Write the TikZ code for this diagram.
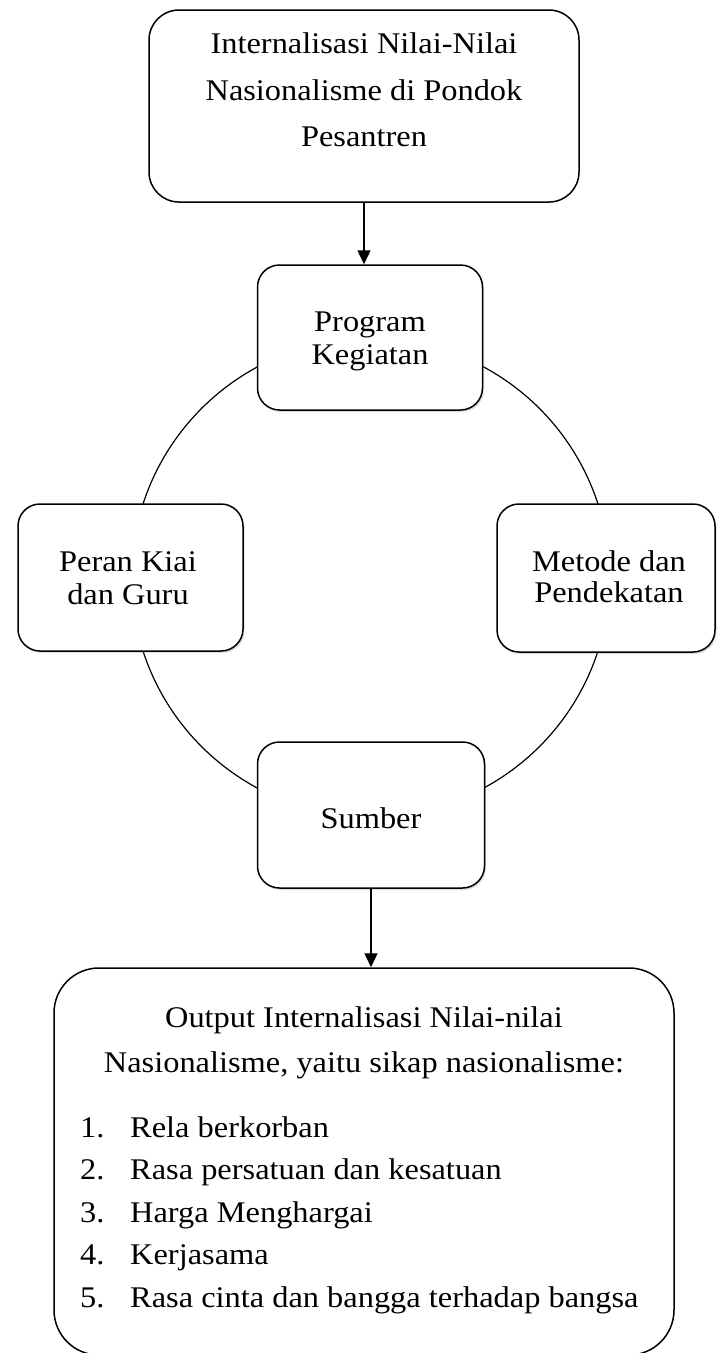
\documentclass[tikz,border=0pt]{standalone}
\usepackage{fontspec}
\setmainfont{Liberation Serif}[FakeStretch=1.08]
\usetikzlibrary{arrows.meta,shadows}
\begin{document}
\begin{tikzpicture}[x=1pt,y=-1pt,
  box/.style={draw, line width=1.5pt, rounded corners=30pt, fill=white, inner sep=0pt},
  cbox/.style={box, rounded corners=22pt,
    drop shadow={opacity=0.25, shadow xshift=1.5pt, shadow yshift=-2pt}},
  lbl/.style={align=center, inner sep=0pt, font=\fontsize{30}{33}\selectfont},
  arr/.style={line width=1.4pt, -{Triangle[length=14pt,width=13pt]}},
  ring/.style={line width=1.2pt}]
\useasboundingbox (0,0) rectangle (716,1353);
\fill[white] (0,0) rectangle (716,1353);
% circle behind the boxes
\coordinate (c) at (370.5,577.5);
\draw[ring] (c) circle [radius=239pt];
% top box
\node[box, minimum width=430pt, minimum height=192pt] (topbox) at (364,106) {};
\node[lbl, font=\fontsize{30}{46.7}\selectfont] (toptext) at (364,89.8)
  {Internalisasi Nilai-Nilai\\Nasionalisme di Pondok\\Pesantren};
% ring boxes
\node[cbox, minimum width=225pt, minimum height=145pt] (prog) at (370,337.5) {};
\node[lbl] (progtext) at (370,341.6) {Program\\Kegiatan};
\node[cbox, minimum width=225pt, minimum height=147pt] (peran) at (130.5,577.5) {};
\node[lbl] (perantext) at (128,578.3) {Peran Kiai\\dan Guru};
\node[cbox, minimum width=218pt, minimum height=148pt] (metode) at (606,578) {};
\node[lbl, font=\fontsize{30}{31}\selectfont] (metodetext) at (609,577) {Metode dan\\Pendekatan};
\node[cbox, minimum width=227pt, minimum height=146pt] (sumber) at (371,815) {};
\node[lbl] (sumbertext) at (371,817.8) {Sumber};
% output box
\node[box, rounded corners=45pt, minimum width=620pt, minimum height=387pt] (outbox) at (364,1161.5) {};
\node[lbl, font=\fontsize{30}{45}\selectfont] (outtext) at (364,1042.5)
  {Output Internalisasi Nilai-nilai\\Nasionalisme, yaitu sikap nasionalisme:};
\node[lbl, align=left, anchor=west, font=\fontsize{30}{42.5}\selectfont] (outlist) at (80,1215)
  {\makebox[50pt][l]{1.}Rela berkorban\\
   \makebox[50pt][l]{2.}Rasa persatuan dan kesatuan\\
   \makebox[50pt][l]{3.}Harga Menghargai\\
   \makebox[50pt][l]{4.}Kerjasama\\
   \makebox[50pt][l]{5.}Rasa cinta dan bangga terhadap bangsa};
% arrows
\draw[arr] (topbox.south) -- (topbox.south |- prog.north);
\draw[arr] (sumber.south) -- (sumber.south |- outbox.north);
\end{tikzpicture}
\end{document}
